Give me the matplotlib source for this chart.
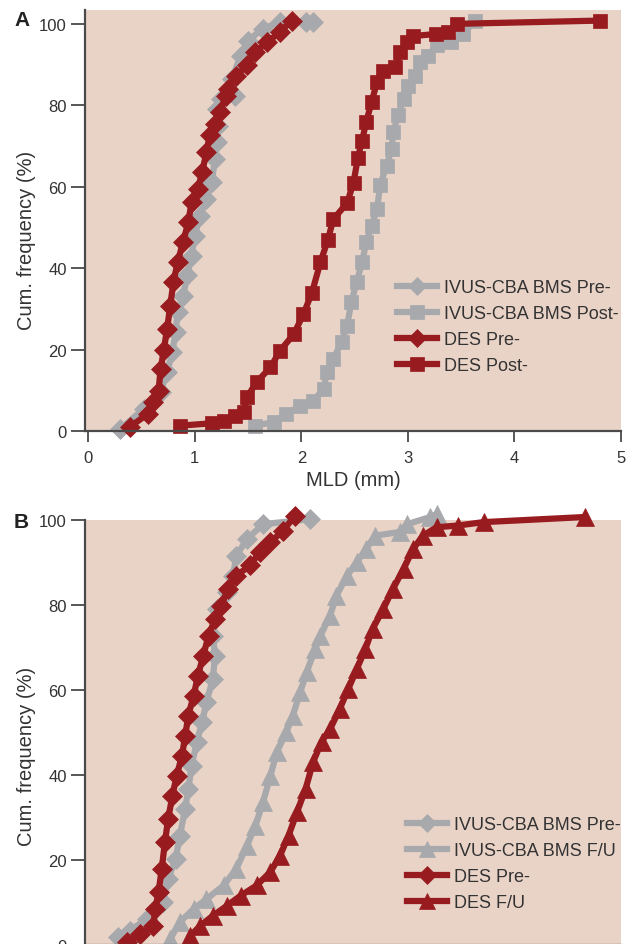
import matplotlib
matplotlib.use("Agg")
import matplotlib.pyplot as plt
from matplotlib import font_manager as fm

names = {f.name for f in fm.fontManager.ttflist}
FONT = ['Liberation Sans Narrow', 'DejaVu Sans'] if 'Liberation Sans Narrow' in names else ['Liberation Sans', 'DejaVu Sans']
plt.rcParams['font.family'] = FONT

# ---------------- Data (MLD in mm, cumulative frequency in %) ----------------
# Panel A
a_bms_pre_x = [0.30, 0.52, 0.68, 0.74, 0.79, 0.82, 0.84, 0.89, 0.93, 0.97, 1.00, 1.05, 1.11, 1.16,
               1.19, 1.21, 1.22, 1.21, 1.25, 1.38, 1.35, 1.43, 1.50, 1.64, 1.80, 2.04, 2.11]
a_bms_pre_y = [0.5, 5.4, 9.6, 14.5, 19.4, 24.3, 29.2, 33.2, 38.2, 43.1, 48.0, 52.9, 57.0, 61.2,
               66.8, 71.0, 75.0, 79.1, 81.6, 82.4, 86.5, 92.2, 95.9, 98.8, 100.4, 100.4, 100.4]

a_bms_post_x = [1.57, 1.74, 1.86, 1.99, 2.11, 2.21, 2.24, 2.30, 2.38, 2.43, 2.47, 2.52, 2.57, 2.61,
                2.66, 2.71, 2.74, 2.80, 2.85, 2.86, 2.91, 2.96, 3.00, 3.07, 3.11, 3.19, 3.27, 3.40,
                3.52, 3.63]
a_bms_post_y = [1.3, 2.2, 4.2, 6.2, 7.4, 10.3, 14.5, 17.7, 21.9, 25.9, 31.7, 36.6, 41.5, 46.4,
                50.4, 54.5, 60.3, 65.2, 69.3, 73.4, 77.5, 81.6, 84.8, 87.3, 90.6, 92.2, 94.7, 95.5,
                97.5, 100.8]

a_des_pre_x = [0.39, 0.56, 0.61, 0.66, 0.68, 0.71, 0.74, 0.77, 0.80, 0.84, 0.89, 0.94, 0.97, 1.03,
               1.07, 1.11, 1.14, 1.19, 1.24, 1.29, 1.31, 1.39, 1.49, 1.57, 1.68, 1.80, 1.91]
a_des_pre_y = [1.0, 4.2, 7.0, 9.9, 15.2, 20.0, 25.0, 30.8, 36.6, 41.5, 46.4, 51.3, 56.2, 59.5,
               63.6, 68.5, 72.6, 75.4, 78.3, 82.4, 84.0, 87.3, 89.8, 93.1, 95.5, 98.0, 100.8]

a_des_post_x = [0.86, 1.16, 1.27, 1.38, 1.46, 1.49, 1.58, 1.71, 1.80, 1.93, 2.02, 2.10, 2.18, 2.25,
                2.30, 2.43, 2.49, 2.53, 2.57, 2.61, 2.66, 2.71, 2.77, 2.88, 2.93, 2.99, 3.05, 3.26,
                3.38, 3.46, 4.80]
a_des_post_y = [1.3, 1.9, 2.4, 3.6, 4.6, 8.3, 12.0, 15.6, 19.7, 23.8, 28.7, 34.0, 41.5, 47.0,
                52.0, 56.0, 61.0, 67.0, 71.3, 76.0, 80.8, 85.7, 88.5, 89.4, 93.0, 95.5, 97.0, 97.5,
                98.0, 100.0, 100.8]

# Panel B
b_bms_pre_x = [0.28, 0.39, 0.55, 0.70, 0.75, 0.82, 0.86, 0.91, 0.94, 0.97, 1.02, 1.07, 1.11, 1.17,
               1.19, 1.17, 1.21, 1.30, 1.36, 1.39, 1.49, 1.64, 2.08]
b_bms_pre_y = [1.9, 3.4, 6.1, 10.1, 15.5, 20.2, 25.7, 32.0, 36.7, 42.2, 47.8, 52.5, 57.2, 62.6,
               68.1, 72.8, 79.1, 83.0, 86.9, 91.6, 95.5, 99.0, 100.2]

b_bms_fu_x = [0.77, 0.86, 0.99, 1.11, 1.27, 1.39, 1.49, 1.57, 1.64, 1.71, 1.77, 1.86, 1.92, 1.99,
              2.05, 2.13, 2.18, 2.27, 2.33, 2.43, 2.52, 2.61, 2.69, 2.93, 2.99, 3.21, 3.27]
b_bms_fu_y = [1.4, 5.4, 8.5, 10.8, 14.0, 17.9, 23.4, 28.1, 33.6, 39.8, 45.4, 50.1, 54.0, 59.5,
              64.2, 69.6, 72.8, 77.5, 82.2, 86.9, 90.1, 93.2, 96.3, 97.2, 99.0, 100.7, 101.4]

b_des_pre_x = [0.36, 0.49, 0.61, 0.63, 0.66, 0.69, 0.72, 0.75, 0.79, 0.83, 0.88, 0.91, 0.94, 0.99,
               1.03, 1.08, 1.13, 1.19, 1.25, 1.31, 1.39, 1.52, 1.61, 1.71, 1.83, 1.94]
b_des_pre_y = [0.7, 2.6, 4.5, 8.5, 12.4, 17.9, 24.2, 29.6, 35.1, 39.8, 44.5, 49.2, 54.0, 58.7,
               63.4, 68.1, 72.8, 76.7, 79.8, 83.8, 86.9, 89.3, 92.5, 94.8, 97.5, 101.0]

b_des_fu_x = [0.96, 1.05, 1.17, 1.30, 1.43, 1.58, 1.71, 1.80, 1.88, 1.96, 2.04, 2.11, 2.19, 2.27,
              2.36, 2.44, 2.52, 2.60, 2.67, 2.77, 2.86, 2.96, 3.05, 3.14, 3.27, 3.47, 3.71, 4.66]
b_des_fu_y = [2.2, 4.5, 6.9, 9.2, 11.6, 14.0, 17.2, 21.0, 25.7, 31.3, 36.7, 43.0, 47.8, 50.8,
              55.5, 60.2, 64.9, 69.6, 74.4, 79.1, 83.8, 88.5, 93.2, 96.3, 98.3, 98.7, 99.5, 100.7]

x_ticks = [0, 1, 2, 3, 4, 5]
y_ticks = [0, 20, 40, 60, 80, 100]
labels_a = ['IVUS-CBA BMS Pre-', 'IVUS-CBA BMS Post-', 'DES Pre-', 'DES Post-']
labels_b = ['IVUS-CBA BMS Pre-', 'IVUS-CBA BMS F/U', 'DES Pre-', 'DES F/U']

# ---------------- Styling ----------------
RED = '#981b1f'
GRAY = '#a7a9ac'
BG = '#e9d3c7'
TXT = '#333333'
SPINE = '#4a4a4a'

W, H = 629, 945
fig = plt.figure(figsize=(W / 100, H / 100), dpi=100)

def px_axes(left, top, right, bottom):
    return fig.add_axes([left / W, 1 - bottom / H, (right - left) / W, (bottom - top) / H])

axA = px_axes(85, 11, 621, 432)
axB = px_axes(85, 521, 621, 946)

def style(ax, ylim, label_y):
    ax.set_facecolor(BG)
    ax.set_xlim(-0.03, 5)
    ax.set_ylim(*ylim)
    ax.set_xticks(x_ticks)
    ax.set_yticks(y_ticks)
    for s in ['top', 'right']:
        ax.spines[s].set_visible(False)
    for s in ['left', 'bottom']:
        ax.spines[s].set_color(SPINE)
        ax.spines[s].set_linewidth(1.6)
    ax.tick_params(axis='y', direction='out', length=10, width=1.3, color=SPINE,
                   labelsize=12, labelcolor=TXT, pad=3)
    ax.tick_params(axis='x', direction='out', length=8, width=1.3, color=SPINE,
                   labelsize=12, labelcolor=TXT, pad=6)
    ax.set_ylabel('Cum. frequency (%)', fontsize=14.5, color=TXT)
    ax.yaxis.set_label_coords(-0.091, label_y)

style(axA, (0, 103.4), 0.455)
style(axB, (0, 100), 0.447)
axB.tick_params(axis='x', labelbottom=False, bottom=False)
axA.set_xlabel('MLD (mm)', fontsize=14.5, color=TXT, labelpad=3)

LW = 4.5
def series(ax, x, y, color, marker, ms, label):
    ax.plot(x, y, color=color, lw=LW, marker=marker, ms=ms, mec=color, mfc=color,
            mew=0.5, clip_on=False, label=label, solid_joinstyle='miter')

MS_D, MS_S, MS_T = 10, 10.5, 12.5
series(axA, a_bms_pre_x, a_bms_pre_y, GRAY, 'D', MS_D, labels_a[0])
series(axA, a_bms_post_x, a_bms_post_y, GRAY, 's', MS_S, labels_a[1])
series(axA, a_des_pre_x, a_des_pre_y, RED, 'D', MS_D, labels_a[2])
series(axA, a_des_post_x, a_des_post_y, RED, 's', MS_S, labels_a[3])

series(axB, b_bms_pre_x, b_bms_pre_y, GRAY, 'D', MS_D, labels_b[0])
series(axB, b_bms_fu_x, b_bms_fu_y, GRAY, '^', MS_T, labels_b[1])
series(axB, b_des_pre_x, b_des_pre_y, RED, 'D', MS_D, labels_b[2])
series(axB, b_des_fu_x, b_des_fu_y, RED, '^', MS_T, labels_b[3])

def legend(ax, x, y):
    leg = ax.legend(loc='upper left', bbox_to_anchor=(x / W, 1 - y / H),
                    bbox_transform=fig.transFigure, frameon=False, fontsize=13,
                    handlelength=2.2, handletextpad=0.4, labelspacing=0.5,
                    borderpad=0, borderaxespad=0, numpoints=1, markerscale=0.9)
    for t in leg.get_texts():
        t.set_color(TXT)
    return leg

legend(axA, 397, 280)
legend(axB, 407, 817)

fig.text(14 / W, 1 - 20 / H, 'A', fontsize=15, fontweight='bold', color='#222222',
         va='center', ha='left')
fig.text(14 / W, 1 - 522 / H, 'B', fontsize=15, fontweight='bold', color='#222222',
         va='center', ha='left')

fig.savefig('out.png', dpi=100, facecolor='white')
